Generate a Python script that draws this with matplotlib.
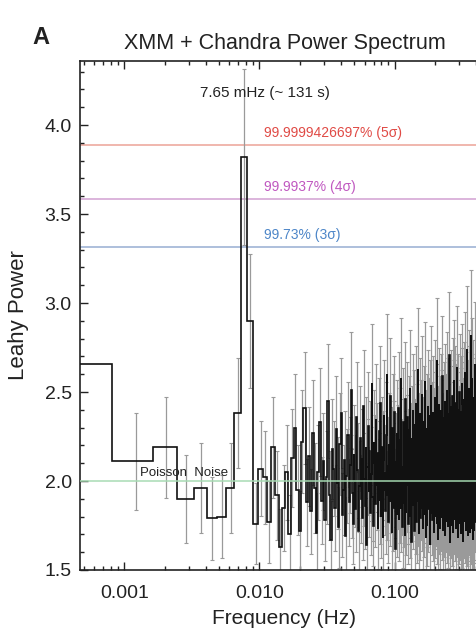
import numpy as np
import matplotlib
matplotlib.use("Agg")
import matplotlib.pyplot as plt
from matplotlib.ticker import FixedLocator, FixedFormatter, LogLocator, MultipleLocator, NullFormatter

plt.rcParams['font.family'] = ['Liberation Sans', 'DejaVu Sans']

# ---- data ----
bin_width_hz = 0.000815          # frequency resolution of the spectrum
rel_err = 0.13                   # relative error-bar size
peak_freq_hz = 0.00765
sig_levels = [3.888, 3.584, 3.315]
sig_labels = ["99.9999426697% (5\u03c3)", "99.9937% (4\u03c3)", "99.73% (3\u03c3)"]
noise_level = 2.0

power = [
    2.66, 2.11, 2.19, 1.90, 1.96, 1.79, 1.80, 1.96, 2.38, 3.82, 2.90, 1.76, 2.07, 2.02,
    1.77, 2.19, 1.92, 1.63, 1.85, 2.05, 1.70, 2.13, 2.30, 1.95, 1.72, 2.22, 2.41, 1.88,
    2.14, 1.83, 2.27, 1.96, 1.71, 2.05, 2.33, 1.89, 2.11, 1.78, 2.02, 2.45, 1.92, 1.67, 2.18, 2.07, 1.85, 2.29, 1.99, 1.74,
    2.21, 2.38, 1.81, 1.95, 2.12, 1.69, 2.03, 2.26, 1.88, 2.09, 2.51, 1.93, 1.76, 2.15, 2.00, 1.84, 2.36, 2.06, 1.72, 1.97,
    2.24, 1.90, 2.13, 1.79, 2.42, 2.01, 1.86, 2.19, 1.64, 2.08, 2.31, 1.94, 2.17, 1.82, 2.04, 2.55, 1.91, 1.75, 2.22, 2.10,
    1.87, 2.35, 1.98, 2.16, 1.73, 2.07, 2.28, 1.89, 2.44, 1.80, 2.01, 2.19, 1.68, 2.12, 2.37, 1.95, 2.05, 1.83, 2.26, 2.60,
    1.92, 2.09, 1.77, 2.21, 2.03, 1.88, 2.48, 1.96, 2.14, 1.71, 2.30, 2.00, 1.85, 2.17, 2.39, 1.93, 1.62, 2.11, 2.06, 1.81,
    2.27, 1.99, 2.15, 2.41, 1.78, 2.04, 1.90, 2.23, 1.84, 2.58, 2.08, 1.95, 1.74, 2.18, 2.33, 1.87, 2.02, 2.12, 1.69, 2.46,
    2.05, 1.82, 2.20, 1.97, 2.36, 1.89, 2.13, 1.76, 2.07, 2.29, 1.93, 2.52, 1.80, 2.01, 2.16, 1.66, 2.24, 2.10, 1.91, 2.40,
    1.86, 2.03, 2.32, 1.95, 1.72, 2.18, 2.09, 1.83, 2.44, 2.00, 1.77, 2.25, 2.12, 1.94, 2.63, 1.88, 2.06, 1.70, 2.21, 1.98,
    2.15, 2.38, 1.79, 2.04, 1.92, 2.27, 1.85, 2.11, 2.49, 1.97, 1.73, 2.19, 2.02, 1.90, 2.34, 1.81, 2.08, 2.56, 1.94, 2.13,
    1.68, 2.22, 2.01, 1.87, 2.30, 2.06, 1.75, 2.17, 1.96, 2.42, 1.84, 2.10, 2.28, 1.91, 2.03, 1.64, 2.20, 2.37, 1.89, 2.07,
    1.99, 2.54, 1.82, 2.14, 1.93, 2.26, 1.78, 2.05, 2.39, 1.95, 2.12, 1.71, 2.23, 2.00, 1.86, 2.47, 2.09, 1.80, 2.31, 1.97,
    2.16, 1.88, 2.02, 2.68, 1.76, 2.11, 2.35, 1.92, 2.04, 1.67, 2.24, 2.08, 1.94, 2.43, 1.83, 2.19, 2.01, 1.73, 2.29, 2.13,
    1.90, 2.06, 2.40, 1.85, 2.17, 1.98, 2.32, 1.79, 2.10, 2.59, 1.95, 1.72, 2.21, 2.03, 1.88, 2.36, 2.14, 1.81, 2.07, 2.27,
    1.97, 1.69, 2.45, 2.00, 2.18, 1.84, 2.12, 2.30, 1.93, 2.05, 1.77, 2.23, 2.51, 1.89, 2.09, 1.74, 2.16, 2.38, 1.96, 2.02,
    1.82, 2.25, 2.11, 1.91, 2.71, 1.87, 2.04, 2.19, 1.65, 2.13, 2.34, 1.98, 2.07, 1.80, 2.42, 2.01, 1.92, 2.20, 1.75, 2.15,
    2.08, 2.48, 1.86, 1.99, 2.26, 1.71, 2.10, 2.37, 1.94, 2.03, 2.57, 1.83, 2.17, 1.96, 2.29, 1.78, 2.12, 2.00, 2.44, 1.89,
    2.06, 1.73, 2.22, 2.35, 1.90, 2.14, 1.81, 2.01, 2.64, 1.95, 2.18, 1.68, 2.09, 2.31, 1.87, 2.05, 2.40, 1.93, 1.76, 2.24,
    2.02, 1.85, 2.13, 2.50, 1.97, 1.79, 2.27, 2.07, 1.92, 2.39, 1.70, 2.16, 2.04, 1.88, 2.33, 2.11, 1.83, 2.55, 1.99, 2.08,
    1.74, 2.20, 2.43, 1.91, 2.03, 1.86, 2.28, 2.15, 1.66, 2.09, 2.36, 1.98, 2.12, 1.80, 2.46, 2.00, 1.94, 2.22, 1.77, 2.61,
    2.05, 1.89, 2.17, 2.32, 1.72, 2.10, 1.96, 2.41, 1.84, 2.06, 2.25, 1.93, 2.74, 1.81, 2.14, 2.01, 1.75, 2.30, 2.08, 1.90,
    2.37, 1.97, 2.19, 1.69, 2.04, 2.52, 1.87, 2.11, 2.26, 1.82, 2.00, 2.44, 1.95, 1.78, 2.21, 2.13, 1.92, 2.35, 1.71, 2.07,
    2.16, 2.82, 1.88, 2.02, 1.76, 2.29, 2.09, 1.94, 2.40, 1.83, 2.18, 1.99, 2.58, 1.73, 2.12, 2.31, 1.90, 2.05, 1.67, 2.24,
    2.03, 1.86, 2.47, 2.14, 1.79, 2.20, 1.96, 2.34, 2.08, 1.72, 2.27, 1.91, 2.15, 2.66, 1.84, 2.01, 2.38, 1.95, 2.10, 1.77,
    2.19, 1.93,
]

x_tick_vals = [0.001, 0.01, 0.1]
x_tick_labels = ["0.001", "0.010", "0.100"]

# ---- derived arrays ----
power = np.array(power)
n = len(power)
edges = np.arange(n + 1) * bin_width_hz
edges[0] = bin_width_hz / 2
centers = (np.arange(n) + 0.5) * bin_width_hz
errs = power * rel_err

# ---- figure ----
W, H = 476, 636
fig = plt.figure(figsize=(W / 100, H / 100), dpi=100)
ax_l, ax_r, ax_t, ax_b = 80, 489, 61, 570
ax = fig.add_axes([ax_l / W, 1 - ax_b / H, (ax_r - ax_l) / W, (ax_b - ax_t) / H])
ax.set_xscale('log')
ax.set_xlim(0.00047, 0.5)
ax.set_ylim(1.5, 4.36)

ax.errorbar(centers[1:], power[1:], yerr=errs[1:], fmt='none', ecolor='#9a9a9a',
            elinewidth=0.9, capsize=1.6, capthick=0.8, zorder=2)
ax.stairs(power, edges, baseline=None, color='#111111', lw=1.2, zorder=3)

line_cols = ['#eeaaa0', '#d6a8d6', '#9fb4d6']
text_cols = ['#e04a45', '#c058c0', '#4d86c8']
for lvl, lab, lc, tc in zip(sig_levels, sig_labels, line_cols, text_cols):
    ax.axhline(lvl, color=lc, lw=1.2, zorder=1)
    ax.text(0.0109, lvl + 0.07, lab, color=tc, fontsize=10, ha='left', va='center', zorder=5)

ax.axhline(noise_level, color='#a6dbb2', lw=1.2, alpha=0.9, zorder=4)
ax.text(0.00276, 2.045, "Poisson  Noise", fontsize=9.5, color='#222222', ha='center', va='center', zorder=5)
ax.text(0.0109, 4.18, "7.65 mHz (~ 131 s)", fontsize=11, color='#222222', ha='center', va='center', zorder=5)

ax.set_title("XMM + Chandra Power Spectrum", fontsize=15.5, pad=9, color='#222222')
ax.set_xlabel("Frequency (Hz)", fontsize=15, labelpad=5, color='#222222')
ax.set_ylabel("Leahy Power", fontsize=16, labelpad=11, color='#222222')

ax.xaxis.set_major_locator(FixedLocator(x_tick_vals))
ax.xaxis.set_major_formatter(FixedFormatter(x_tick_labels))
ax.xaxis.set_minor_locator(LogLocator(base=10, subs=np.arange(2, 10)))
ax.xaxis.set_minor_formatter(NullFormatter())
ax.yaxis.set_major_locator(MultipleLocator(0.5))
ax.yaxis.set_minor_locator(MultipleLocator(0.1))
ax.yaxis.set_major_formatter(matplotlib.ticker.FormatStrFormatter('%.1f'))

ax.tick_params(which='both', direction='in', top=True, right=True, colors='#222222', width=1.0)
ax.tick_params(which='major', length=6)
ax.tick_params(which='minor', length=3)
ax.tick_params(axis='x', which='major', labelsize=14, pad=11)
ax.tick_params(axis='y', which='major', labelsize=14, pad=6)
for s in ax.spines.values():
    s.set_linewidth(1.2)
    s.set_color('#222222')

fig.text(41 / W, 1 - 37 / H, "A", fontsize=17, fontweight='bold', ha='center', va='center', color='#222222')

fig.savefig("out.png", dpi=100)
